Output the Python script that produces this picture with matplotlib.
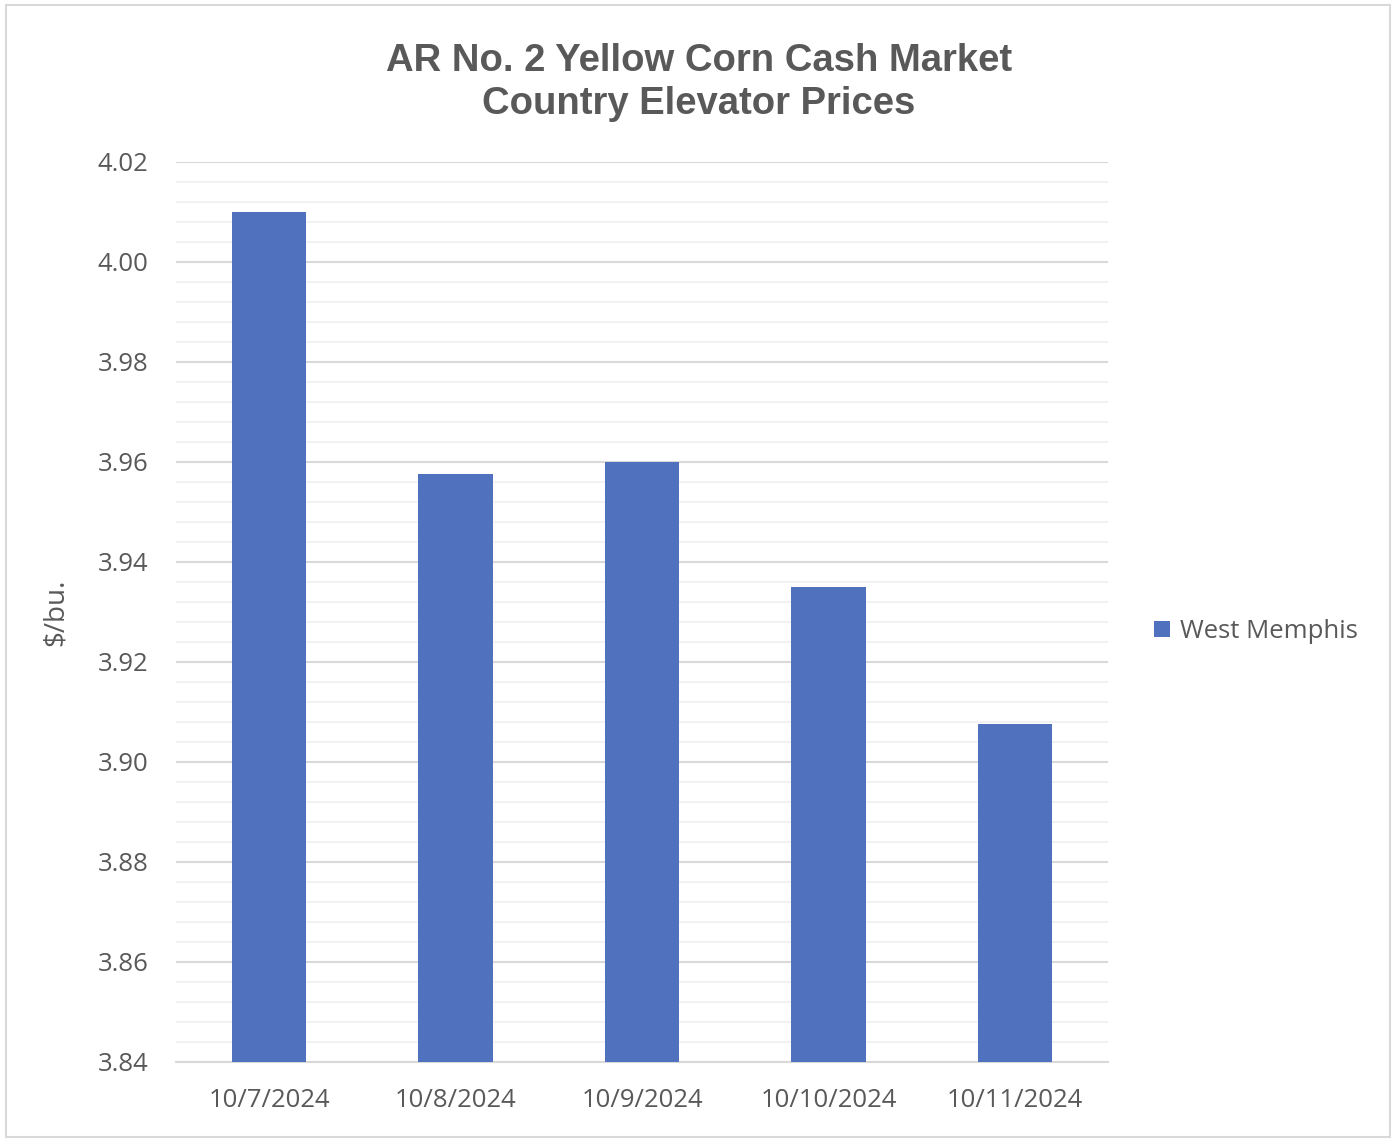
import matplotlib.pyplot as plt
from matplotlib.patches import Rectangle
from matplotlib.ticker import MultipleLocator

dates = ["10/7/2024", "10/8/2024", "10/9/2024", "10/10/2024", "10/11/2024"]
west_memphis = [4.01, 3.9575, 3.96, 3.935, 3.9075]

grey = "#595959"
blue = "#4F71BE"

fig = plt.figure(figsize=(13.98, 11.44), dpi=100)
ax = fig.add_axes([0.1259, 0.0717, 0.6667, 0.7867])

x = range(len(dates))
ax.bar(x, west_memphis, width=0.4, color=blue, label="West Memphis", zorder=3)

ax.set_xlim(-0.5, len(dates) - 0.5)
ax.set_ylim(3.84, 4.02)
ax.yaxis.set_major_locator(MultipleLocator(0.02))
ax.yaxis.set_minor_locator(MultipleLocator(0.004))
ax.grid(which="major", axis="y", color="#D9D9D9", linewidth=1.5, zorder=0)
ax.grid(which="minor", axis="y", color="#F2F2F2", linewidth=1.5, zorder=0)
ax.set_xticks(list(x))
ax.set_xticklabels(dates)
ax.yaxis.set_major_formatter(lambda v, p: f"{v:.2f}")

for s in ["top", "right", "left"]:
    ax.spines[s].set_visible(False)
ax.spines["bottom"].set_color("#D9D9D9")
ax.spines["bottom"].set_linewidth(1.5)
ax.tick_params(axis="both", which="both", length=0, colors=grey, labelsize=18.5)
ax.tick_params(axis="x", pad=19)
ax.tick_params(axis="y", pad=20)
for lbl in ax.get_xticklabels() + ax.get_yticklabels():
    lbl.set_family("Open Sans")

ax.set_ylabel("$/bu.", fontsize=20, color=grey, family="Open Sans", labelpad=20)

fig.suptitle("AR No. 2 Yellow Corn Cash Market\nCountry Elevator Prices",
             x=0.5, y=0.962, fontsize=27.5, fontweight="bold", color=grey,
             family="Liberation Sans", linespacing=1.24)

leg = fig.legend(loc="center left", bbox_to_anchor=(0.809, 0.448), frameon=False,
                 prop={"family": "Open Sans", "size": 18.5}, handlelength=0.6,
                 handleheight=0.6, handletextpad=0.4)
for t in leg.get_texts():
    t.set_color(grey)

fig.patches.append(Rectangle((0.004, 0.006), 0.99, 0.99, transform=fig.transFigure,
                             fill=False, edgecolor="#D9D9D9", linewidth=1.5))

fig.savefig("out.png", dpi=100)
